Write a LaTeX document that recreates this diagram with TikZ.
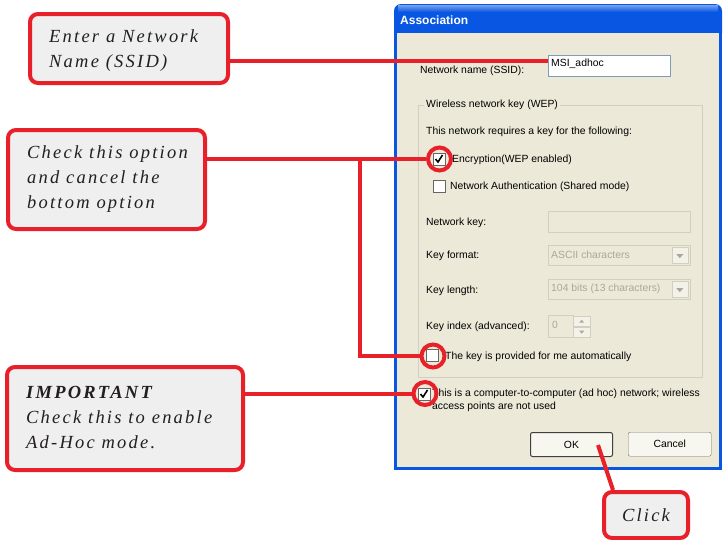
\documentclass[tikz,border=0pt]{standalone}
\usepackage{fontspec}
\setmainfont{Liberation Serif}
\newfontfamily\uifont{Liberation Sans}
\newfontfamily\notefont[LetterSpace=12,
  UprightFont={Liberation Serif Italic},
  BoldFont={Liberation Serif Bold Italic}]{Liberation Serif}
\usetikzlibrary{positioning}

\definecolor{calloutred}{RGB}{232,32,42}
\definecolor{calloutfill}{RGB}{238,239,238}
\definecolor{notegray}{RGB}{35,31,32}
\definecolor{xpface}{RGB}{236,233,216}
\definecolor{xpblue}{RGB}{8,86,226}
\definecolor{xpgray}{RGB}{172,168,153}
\definecolor{xpline}{RGB}{208,208,191}
\definecolor{xpedge}{RGB}{127,157,185}

\tikzset{
  callout/.style={draw=calloutred, line width=4pt, rounded corners=8pt, fill=calloutfill},
  notetext/.style={font=\notefont\fontsize{18.5}{25}\selectfont, align=left, inner sep=0pt, text=notegray},
  wire/.style={draw=calloutred, line width=4pt},
  ring/.style={circle, draw=calloutred, line width=4pt, minimum size=23pt, inner sep=0pt},
  uitext/.style={font=\uifont\fontsize{10.4}{13}\selectfont, inner sep=0pt, anchor=west, text=black},
  graytext/.style={uitext, text=xpgray},
  editbox/.style={draw=xpedge, fill=white},
  offbox/.style={draw=xpline, fill=xpface},
  tickbox/.style={draw=black!60, fill=white, minimum size=12pt, inner sep=0pt},
  arrowbtn/.style={draw=xpline, fill=xpface!60!white},
  xpbutton/.style={draw=black!75, fill=xpface!40!white, rounded corners=2pt, minimum width=82pt,
    minimum height=24pt, inner sep=0pt, font=\uifont\fontsize{10.4}{11}\selectfont}
}

\begin{document}
\begin{tikzpicture}[x=1pt,y=-1pt]
\useasboundingbox (0,0) rectangle (723,539);

% dialog window
\fill[xpblue, rounded corners=7pt] (394,4) rectangle (722,40);
\fill[xpblue] (394,25) rectangle (722,470);
\shade[top color=xpblue!55!white, bottom color=xpblue] (398,5) rectangle (718,12);
\fill[xpface] (397,33) rectangle (719,467);
\node[font=\uifont\bfseries\fontsize{12}{13}\selectfont, text=white, anchor=west, inner sep=0pt] (title) at (400,20) {Association};

\node[uitext] (ssidlbl) at (420,71) {Network name (SSID):};
\node[editbox, minimum width=122pt, minimum height=21pt, anchor=north west] (ssid) at (548,55) {};
\node[uitext] (ssidval) at (551,64) {MSI\_adhoc};

% key group
\draw[xpline] (418,105) rectangle (702,377);
\node[uitext, fill=xpface, inner xsep=2pt] (grouplbl) at (424,105) {Wireless network key (WEP)};
\node[uitext] (needs) at (426,132) {This network requires a key for the following:};
\node[tickbox] (enc) at (439,159) {};
\draw[line width=1.6pt] (enc.center) ++(-3.5,0) -- ++(2.5,3) -- ++(4.5,-7);
\node[uitext] (enclbl) at (452,160) {Encryption(WEP enabled)};
\node[tickbox] (auth) at (439,186) {};
\node[uitext] (authlbl) at (450,187) {Network Authentication (Shared mode)};

\node[uitext] (keylbl) at (426,223) {Network key:};
\node[offbox, minimum width=142pt, minimum height=21pt, anchor=north west] (keybox) at (548,211) {};

\node[uitext] (fmtlbl) at (426,256) {Key format:};
\node[offbox, minimum width=142pt, minimum height=20pt, anchor=north west] (fmtbox) at (548,245) {};
\node[graytext] (fmtval) at (551,255) {ASCII characters};
\node[arrowbtn, minimum width=16pt, minimum height=16pt, anchor=north east] (fmtbtn) at (688,247) {};
\fill[xpgray] (fmtbtn.center) ++(-3.5,-1) -- ++(7,0) -- ++(-3.5,4) -- cycle;

\node[uitext] (lenlbl) at (426,291) {Key length:};
\node[offbox, minimum width=142pt, minimum height=20pt, anchor=north west] (lenbox) at (548,279) {};
\node[graytext] (lenval) at (551,289) {104 bits (13 characters)};
\node[arrowbtn, minimum width=16pt, minimum height=16pt, anchor=north east] (lenbtn) at (688,281) {};
\fill[xpgray] (lenbtn.center) ++(-3.5,-1) -- ++(7,0) -- ++(-3.5,4) -- cycle;

\node[uitext] (idxlbl) at (426,327) {Key index (advanced):};
\node[offbox, minimum width=25pt, minimum height=22pt, anchor=north west] (idxbox) at (548,315) {};
\node[graytext] (idxval) at (552,325) {0};
\node[arrowbtn, minimum width=17pt, minimum height=10pt, anchor=north west] (idxup) at (573,316) {};
\node[arrowbtn, minimum width=17pt, minimum height=10pt, anchor=north west] (idxdown) at (573,327) {};
\fill[xpgray] (idxup.center) ++(-2.5,1.5) -- ++(5,0) -- ++(-2.5,-3) -- cycle;
\fill[xpgray] (idxdown.center) ++(-2.5,-1.5) -- ++(5,0) -- ++(-2.5,3) -- cycle;

\node[tickbox] (auto) at (432,355) {};
\node[uitext] (autolbl) at (445,357) {The key is provided for me automatically};

\node[tickbox] (adhoc) at (424,394) {};
\draw[line width=1.6pt] (adhoc.center) ++(-3.5,0) -- ++(2.5,3) -- ++(4.5,-7);
\node[uitext, anchor=north west, align=left] (adhoclbl) at (432,389)
  {This is a computer-to-computer (ad hoc) network; wireless\\access points are not used};

\node[xpbutton, line width=1pt, anchor=north west] (ok) at (530,432) {OK};
\node[xpbutton, draw=black!55, minimum width=83pt, anchor=north west] (cancel) at (628,432) {Cancel};

% callouts
\node[callout, minimum width=198pt, minimum height=69pt] (box1) at (129,48.5) {};
\node[notetext, anchor=west] (box1txt) at ([xshift=21pt,yshift=-2pt]box1.west) {Enter a Network\\Name (SSID)};
\node[callout, minimum width=197pt, minimum height=99pt] (box2) at (106.5,179.5) {};
\node[notetext, anchor=west] (box2txt) at ([xshift=21pt]box2.west) {Check this option\\and cancel the\\bottom option};
\node[callout, minimum width=236pt, minimum height=103pt] (box3) at (125,418.5) {};
\node[notetext, anchor=west] (box3txt) at ([xshift=21pt,yshift=1pt]box3.west) {\textbf{IMPORTANT}\\Check this to enable\\Ad-Hoc mode.};
\node[callout, minimum width=84pt, minimum height=46pt] (box4) at (646,515) {};
\node[notetext] (box4txt) at (box4.center) {Click};

\node[ring] (encring) at (439.5,159) {};
\node[ring] (autoring) at (433,356) {};
\node[ring] (adhocring) at (425,393.5) {};

% connectors
\coordinate (ssidtip) at (548,61);
\coordinate (fork) at (360,159);
\coordinate (okpt) at (598,445);
\draw[wire] (box1.east |- ssidtip) -- (ssidtip);
\draw[wire] (box2.east |- encring) -- (encring.west);
\draw[wire] (fork) |- (autoring.west);
\draw[wire] (box3.east |- adhocring) -- (adhocring.west);
\draw[wire] (okpt) -- ([xshift=11pt]box4.north west);
\end{tikzpicture}
\end{document}
